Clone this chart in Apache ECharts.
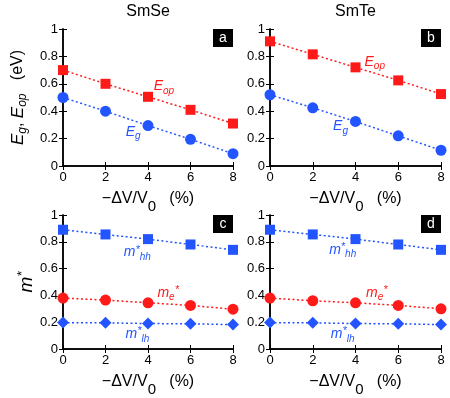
<!DOCTYPE html>
<html>
<head>
<meta charset="utf-8">
<script src="https://cdn.jsdelivr.net/npm/echarts@6/dist/echarts.min.js"></script>
<style>html,body{margin:0;padding:0;background:#fff}#c{width:450px;height:398px}</style>
</head>
<body>
<div id="c"></div>
<script>
const xVals = [0, 2, 4, 6, 8];
const titles = ['SmSe', 'SmTe'];
const panelLetters = ['a', 'b', 'c', 'd'];
const smseEop = [0.70, 0.60, 0.505, 0.41, 0.31];
const smseEg = [0.50, 0.40, 0.295, 0.195, 0.09];
const smteEop = [0.91, 0.815, 0.72, 0.625, 0.525];
const smteEg = [0.52, 0.425, 0.325, 0.22, 0.115];
const smseMhh = [0.89, 0.855, 0.82, 0.78, 0.74];
const smseMe = [0.38, 0.365, 0.345, 0.325, 0.297];
const smseMlh = [0.197, 0.195, 0.19, 0.188, 0.182];
const smteMhh = [0.89, 0.855, 0.82, 0.78, 0.74];
const smteMe = [0.38, 0.36, 0.345, 0.325, 0.30];
const smteMlh = [0.197, 0.195, 0.19, 0.188, 0.182];

const RED = '#ff1a1a', BLUE = '#2255ff';
const FONT = 'Liberation Sans, Arial, sans-serif';

const grids = [
  {left: 63, top: 29, width: 170, height: 137},
  {left: 270, top: 29, width: 171, height: 137},
  {left: 63, top: 215, width: 170, height: 139},
  {left: 270, top: 215, width: 171, height: 139}
];

const xName = '{n|\u2212\u0394V/V}{z|0}{n|   (%)}';
const xRich = {n: {fontSize: 16, fontFamily: FONT, color: '#000'}, z: {fontSize: 15, fontFamily: FONT, color: '#000', padding: [15, 0, 0, 0]}};

const xAxis = [], yAxis = [];
grids.forEach((g, k) => {
  xAxis.push({
    gridIndex: k, type: 'value', min: 0, max: 8, interval: 2, position: 'bottom',
    name: xName, nameLocation: 'middle', nameGap: 18, nameTextStyle: {rich: xRich},
    axisLine: {lineStyle: {color: '#000', width: 1.5}},
    axisTick: {inside: true, length: 4, lineStyle: {color: '#000'}},
    axisLabel: {color: '#000', fontSize: 13, fontFamily: FONT, margin: 5},
    splitLine: {show: false}
  });
  xAxis.push({
    gridIndex: k, type: 'value', min: 0, max: 8, interval: 2, position: 'top',
    axisLine: {lineStyle: {color: '#000', width: 1.5}},
    axisTick: {inside: true, length: 4, lineStyle: {color: '#000'}},
    axisLabel: {show: false}, splitLine: {show: false}
  });
  let yname = '', gap = 34;
  if (k === 0) yname = '{i|E}{s|g}{n|, }{i|E}{s|op}{n|   (eV)}';
  if (k === 2) { yname = '{m|m}{p|*}'; gap = 26; }
  yAxis.push({
    gridIndex: k, type: 'value', min: 0, max: 1, interval: 0.2, position: 'left',
    name: yname, nameLocation: 'middle', nameGap: gap, nameRotate: 90,
    nameTextStyle: {color: '#000', rich: {
      i: {fontStyle: 'italic', fontSize: 17, fontFamily: FONT, color: '#000'},
      m: {fontStyle: 'italic', fontSize: 19, fontFamily: FONT, color: '#000'},
      s: {fontStyle: 'italic', fontSize: 12, fontFamily: FONT, color: '#000', padding: [10, 0, 0, 0]},
      p: {fontStyle: 'italic', fontSize: 13, fontFamily: FONT, color: '#000', padding: [0, 0, 8, 0]},
      n: {fontSize: 16, fontFamily: FONT, color: '#000'}
    }},
    axisLine: {lineStyle: {color: '#000', width: 1.5}},
    axisTick: {inside: true, length: 4, lineStyle: {color: '#000'}},
    axisLabel: {color: '#000', fontSize: 13, fontFamily: FONT, margin: 5,
      formatter: v => (v === 0 || v === 1) ? String(v) : v.toFixed(1)},
    splitLine: {show: false}
  });
  yAxis.push({
    gridIndex: k, type: 'value', min: 0, max: 1, interval: 0.2, position: 'right',
    axisLine: {lineStyle: {color: '#000', width: 1.5}},
    axisTick: {inside: true, length: 4, lineStyle: {color: '#000'}},
    axisLabel: {show: false}, splitLine: {show: false}
  });
});

function pts(arr) { return xVals.map((x, i) => [x, arr[i]]); }

function mk(k, vals, color, symbol, size, annCoord, annText) {
  return {
    type: 'line', xAxisIndex: 2 * k, yAxisIndex: 2 * k, data: pts(vals),
    symbol: symbol, symbolSize: size, showAllSymbol: true,
    itemStyle: {color: color}, lineStyle: {color: color, width: 1.5, type: [2, 2.5]},
    z: 3, clip: false, animation: false,
    markPoint: {
      symbol: 'circle', symbolSize: 0, silent: true, animation: false,
      data: [{coord: annCoord, value: 0,
        label: {show: true, position: 'inside', formatter: annText,
          rich: {
            i: {fontStyle: 'italic', fontSize: 14, fontFamily: FONT, color: color},
            s: {fontStyle: 'italic', fontSize: 10, fontFamily: FONT, color: color, padding: [9, 0, 0, 0]},
            p: {fontStyle: 'italic', fontSize: 11, fontFamily: FONT, color: color, padding: [0, 0, 6, 0]}
          }}}]
    }
  };
}

const EOP = '{i|E}{s|op}', EG = '{i|E}{s|g}';
const MHH = '{i|m}{p|*}{s|hh}', ME = '{i|m}{s|e}{p|*}', MLH = '{i|m}{p|*}{s|lh}';

const series = [
  mk(0, smseEop, RED, 'rect', 10, [4.75, 0.58], EOP),
  mk(0, smseEg, BLUE, 'circle', 11, [3.3, 0.25], EG),
  mk(1, smteEop, RED, 'rect', 10, [4.9, 0.76], EOP),
  mk(1, smteEg, BLUE, 'circle', 11, [3.3, 0.29], EG),
  mk(2, smseMhh, BLUE, 'rect', 10, [3.5, 0.72], MHH),
  mk(2, smseMe, RED, 'circle', 11, [4.95, 0.42], ME),
  mk(2, smseMlh, BLUE, 'diamond', 12, [3.5, 0.11], MLH),
  mk(3, smteMhh, BLUE, 'rect', 10, [3.4, 0.74], MHH),
  mk(3, smteMe, RED, 'circle', 11, [5.0, 0.42], ME),
  mk(3, smteMlh, BLUE, 'diamond', 12, [3.4, 0.11], MLH)
];

const graphic = [];
titles.forEach((t, i) => {
  const g = grids[i];
  graphic.push({type: 'text', x: g.left + g.width / 2, y: 12,
    style: {text: t, fontSize: 16, fontFamily: FONT, fill: '#000', align: 'center', verticalAlign: 'middle'}});
});
grids.forEach((g, k) => {
  graphic.push({type: 'rect', shape: {x: g.left + g.width - 20, y: g.top, width: 20, height: 18}, style: {fill: '#000'}, z: 10});
  graphic.push({type: 'text', x: g.left + g.width - 10, y: g.top + 9, z: 11,
    style: {text: panelLetters[k], fontSize: 14, fontFamily: FONT, fill: '#fff', align: 'center', verticalAlign: 'middle'}});
});

const chart = echarts.init(document.getElementById('c'), null, {renderer: 'canvas'});
chart.setOption({
  animation: false,
  backgroundColor: '#fff',
  grid: grids.map(g => Object.assign({containLabel: false}, g)),
  xAxis, yAxis, series, graphic
});
</script>
</body>
</html>
